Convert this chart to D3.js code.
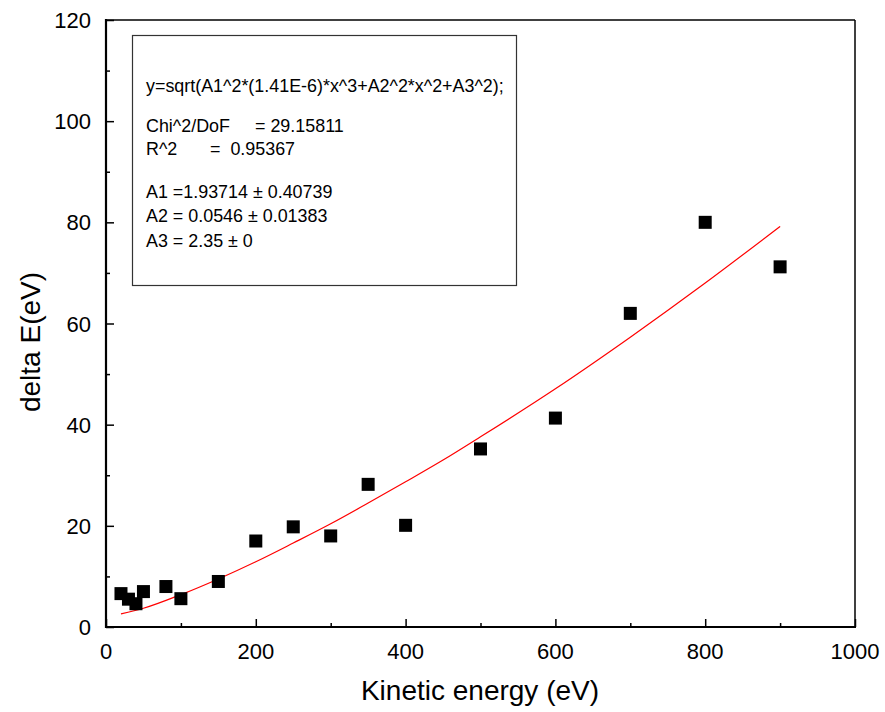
<!DOCTYPE html>
<html><head><meta charset="utf-8">
<script src="https://cdn.jsdelivr.net/npm/d3@7"></script>
<style>body{margin:0;background:#fff}svg{display:block;font-family:"Liberation Sans",Arial,sans-serif}</style>
</head><body>
<svg id="c" width="885" height="712"></svg>
<script>
const energy = [20,30,40,50,80,100,150,200,250,300,350,400,500,600,700,800,900];
const deltaE = [6.6,5.5,4.6,7.0,8.0,5.6,9.0,17.0,19.8,18.0,28.2,20.1,35.2,41.3,62.0,80.0,71.2];
const fitX = [20,50,100,150,200,250,300,350,400,450,500,600,700,800,900];
const fitY = [2.6,3.7,6.4,9.5,12.9,16.6,20.4,24.5,28.7,33.0,37.6,47.1,57.3,68.0,79.2];
const xTicks = [0,200,400,600,800,1000];
const yTicks = [0,20,40,60,80,100,120];
const boxLines = [
  ["y=sqrt(A1^2*(1.41E-6)*x^3+A2^2*x^2+A3^2);"],
  [],
  ["Chi^2/DoF","= 29.15811"],
  ["R^2","=  0.95367"],
  [],
  ["A1 =1.93714 \u00b1 0.40739"],
  ["A2 = 0.0546 \u00b1 0.01383"],
  ["A3 = 2.35 \u00b1 0"]
];

const svg = d3.select("#c");
const L=106,R=855,T=20,B=627;
const x = d3.scaleLinear().domain([0,1000]).range([L,R]);
const y = d3.scaleLinear().domain([0,120]).range([B,T]);

// frame top/right
svg.append("line").attr("x1",L).attr("x2",R).attr("y1",T).attr("y2",T).attr("stroke","#000").attr("stroke-width",1.5);
svg.append("line").attr("x1",R).attr("x2",R).attr("y1",T).attr("y2",B).attr("stroke","#000").attr("stroke-width",1.5);

// x axis
const xAx = svg.append("g").attr("transform",`translate(0,${B})`)
  .call(d3.axisBottom(x).tickValues(d3.range(0,1001,100)).tickSize(0).tickFormat(""));
xAx.select(".domain").remove();
xAx.selectAll(".tick line").attr("y2",d=>d%200===0?-8:-4).attr("stroke","#000").attr("stroke-width",1.5);
svg.append("line").attr("x1",L-1).attr("x2",R+1).attr("y1",B).attr("y2",B).attr("stroke","#000").attr("stroke-width",2.2);
svg.append("g").selectAll("text").data(xTicks).join("text")
  .attr("x",d=>x(d)).attr("y",B+32).attr("text-anchor","middle").attr("font-size",22).text(d=>d);

// y axis
const yAx = svg.append("g").attr("transform",`translate(${L},0)`)
  .call(d3.axisLeft(y).tickValues(d3.range(0,121,10)).tickSize(0).tickFormat(""));
yAx.select(".domain").remove();
yAx.selectAll(".tick line").attr("x2",d=>d%20===0?8:4).attr("stroke","#000").attr("stroke-width",1.5);
svg.append("line").attr("x1",L).attr("x2",L).attr("y1",T-1).attr("y2",B+1).attr("stroke","#000").attr("stroke-width",2.2);
svg.append("g").selectAll("text").data(yTicks).join("text")
  .attr("x",L-15).attr("y",d=>y(d)+8).attr("text-anchor","end").attr("font-size",22).text(d=>d);

// titles
svg.append("text").attr("x",480).attr("y",700).attr("text-anchor","middle").attr("font-size",28).text("Kinetic energy (eV)");
svg.append("text").attr("transform",`translate(40,342) rotate(-90)`).attr("text-anchor","middle").attr("font-size",28).text("delta E(eV)");

// fit line
svg.append("path").datum(fitX.map((v,i)=>[v,fitY[i]]))
  .attr("d",d3.line().x(d=>x(d[0])).y(d=>y(d[1])).curve(d3.curveMonotoneX))
  .attr("fill","none").attr("stroke","#ff0000").attr("stroke-width",1.2);

// points
const s=13;
svg.append("g").selectAll("rect").data(energy.map((v,i)=>[v,deltaE[i]])).join("rect")
  .attr("x",d=>x(d[0])-s/2).attr("y",d=>y(d[1])-s/2).attr("width",s).attr("height",s).attr("fill","#000");

// text box
svg.append("rect").attr("x",132.5).attr("y",35.5).attr("width",384).attr("height",250)
  .attr("fill","#fff").attr("stroke","#333").attr("stroke-width",1.2);
const lineY=[92,0,132,155,0,198,222,247];
const g=svg.append("g").attr("font-size",17.9);
boxLines.forEach((ln,i)=>{
  if(!ln.length) return;
  g.append("text").attr("x",146).attr("y",lineY[i]).text(ln[0]);
  if(ln[1]){
    const xx = i===2?255:210;
    g.append("text").attr("x",xx).attr("y",lineY[i]).attr("xml:space","preserve").style("white-space","pre").text(ln[1]);
  }
});
</script>
</body></html>
